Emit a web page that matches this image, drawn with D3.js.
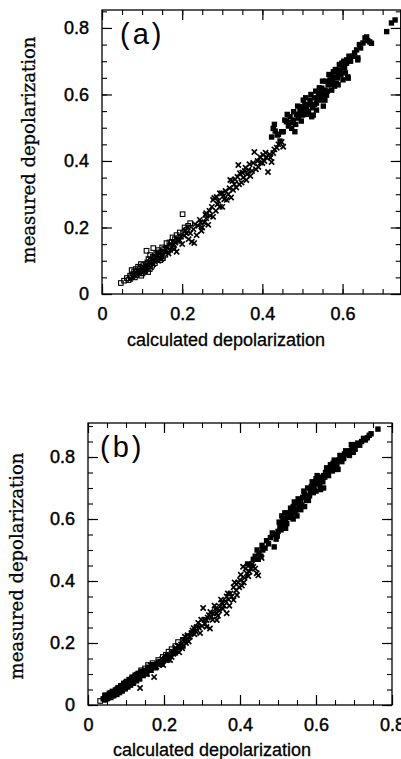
<!DOCTYPE html>
<html>
<head>
<meta charset="utf-8">
<script src="https://cdn.jsdelivr.net/npm/d3@7"></script>
<style>
  html, body { margin: 0; padding: 0; background: #fff; }
  svg { display: block; }
</style>
</head>
<body>
<div id="chart"></div>
<script>
// [calculated, measured] pairs
const aOpen = [[0.047,0.033],[0.055,0.040],[0.062,0.048],[0.066,0.042],[0.070,0.055],[0.072,0.050],[0.074,0.072],[0.078,0.060],[0.080,0.068],[0.082,0.050],[0.084,0.075],[0.086,0.057],[0.088,0.070],[0.090,0.082],[0.092,0.064],[0.094,0.068],[0.095,0.078],[0.097,0.090],[0.098,0.055],[0.100,0.072],[0.101,0.062],[0.103,0.087],[0.105,0.078],[0.106,0.068],[0.108,0.080],[0.110,0.090],[0.111,0.130],[0.113,0.095],[0.115,0.066],[0.116,0.105],[0.118,0.088],[0.119,0.075],[0.120,0.117],[0.122,0.100],[0.124,0.095],[0.125,0.085],[0.127,0.112],[0.128,0.138],[0.130,0.110],[0.132,0.093],[0.133,0.105],[0.135,0.120],[0.138,0.105],[0.140,0.132],[0.142,0.125],[0.143,0.115],[0.145,0.102],[0.148,0.125],[0.150,0.140],[0.152,0.108],[0.155,0.135],[0.158,0.118],[0.161,0.153],[0.162,0.128],[0.165,0.130],[0.168,0.155],[0.170,0.145],[0.174,0.157],[0.176,0.170],[0.178,0.140],[0.182,0.165],[0.186,0.177],[0.188,0.160],[0.190,0.168],[0.194,0.185],[0.201,0.240],[0.202,0.183],[0.206,0.200],[0.211,0.193],[0.215,0.205],[0.220,0.213]];
const aCross = [[0.070,0.045],[0.076,0.052],[0.080,0.058],[0.085,0.062],[0.090,0.070],[0.095,0.062],[0.100,0.070],[0.103,0.081],[0.106,0.075],[0.108,0.070],[0.110,0.083],[0.112,0.078],[0.115,0.085],[0.118,0.095],[0.122,0.080],[0.124,0.102],[0.128,0.090],[0.130,0.100],[0.135,0.110],[0.138,0.118],[0.140,0.100],[0.145,0.123],[0.148,0.105],[0.150,0.112],[0.155,0.128],[0.158,0.135],[0.161,0.141],[0.166,0.122],[0.170,0.132],[0.172,0.150],[0.177,0.147],[0.180,0.135],[0.183,0.155],[0.186,0.127],[0.190,0.160],[0.194,0.162],[0.197,0.172],[0.200,0.150],[0.205,0.175],[0.208,0.190],[0.211,0.183],[0.214,0.200],[0.216,0.165],[0.220,0.183],[0.224,0.157],[0.228,0.195],[0.230,0.153],[0.232,0.210],[0.236,0.177],[0.240,0.205],[0.244,0.223],[0.246,0.215],[0.248,0.190],[0.250,0.200],[0.255,0.215],[0.258,0.238],[0.260,0.228],[0.260,0.243],[0.265,0.208],[0.268,0.250],[0.270,0.235],[0.274,0.262],[0.277,0.232],[0.277,0.283],[0.280,0.289],[0.284,0.250],[0.286,0.292],[0.288,0.270],[0.290,0.280],[0.294,0.262],[0.294,0.303],[0.299,0.303],[0.300,0.262],[0.303,0.295],[0.305,0.285],[0.308,0.310],[0.311,0.283],[0.315,0.300],[0.318,0.318],[0.320,0.343],[0.322,0.290],[0.325,0.340],[0.327,0.313],[0.330,0.330],[0.332,0.345],[0.335,0.320],[0.338,0.352],[0.340,0.388],[0.342,0.330],[0.344,0.363],[0.348,0.335],[0.350,0.365],[0.352,0.350],[0.356,0.370],[0.358,0.380],[0.360,0.343],[0.362,0.360],[0.365,0.373],[0.368,0.390],[0.370,0.355],[0.374,0.370],[0.377,0.394],[0.380,0.427],[0.384,0.375],[0.388,0.400],[0.390,0.382],[0.394,0.412],[0.396,0.395],[0.400,0.394],[0.402,0.418],[0.405,0.400],[0.408,0.425],[0.410,0.412],[0.414,0.367],[0.418,0.420],[0.420,0.410],[0.423,0.397],[0.427,0.424],[0.430,0.435],[0.436,0.440],[0.440,0.450],[0.448,0.457],[0.452,0.443]];
const aFilled = [[0.423,0.472],[0.427,0.498],[0.430,0.510],[0.432,0.490],[0.437,0.478],[0.440,0.480],[0.444,0.460],[0.448,0.488],[0.452,0.488],[0.456,0.523],[0.460,0.518],[0.462,0.540],[0.465,0.505],[0.469,0.533],[0.470,0.515],[0.473,0.498],[0.477,0.523],[0.478,0.548],[0.481,0.488],[0.483,0.510],[0.485,0.540],[0.488,0.565],[0.490,0.529],[0.492,0.540],[0.494,0.563],[0.494,0.553],[0.497,0.520],[0.498,0.545],[0.500,0.538],[0.502,0.583],[0.503,0.555],[0.506,0.570],[0.508,0.590],[0.510,0.553],[0.510,0.563],[0.512,0.540],[0.515,0.548],[0.517,0.570],[0.519,0.583],[0.521,0.600],[0.523,0.533],[0.525,0.560],[0.527,0.538],[0.530,0.590],[0.530,0.570],[0.533,0.610],[0.535,0.574],[0.535,0.553],[0.538,0.585],[0.540,0.600],[0.542,0.620],[0.544,0.604],[0.544,0.583],[0.546,0.595],[0.548,0.619],[0.550,0.640],[0.552,0.565],[0.553,0.600],[0.556,0.583],[0.556,0.613],[0.558,0.640],[0.560,0.598],[0.562,0.610],[0.564,0.629],[0.566,0.660],[0.569,0.644],[0.570,0.630],[0.573,0.613],[0.575,0.640],[0.576,0.653],[0.577,0.668],[0.580,0.625],[0.582,0.675],[0.585,0.634],[0.587,0.650],[0.589,0.629],[0.590,0.660],[0.592,0.690],[0.594,0.674],[0.596,0.660],[0.598,0.694],[0.601,0.644],[0.603,0.700],[0.605,0.680],[0.607,0.665],[0.610,0.704],[0.610,0.694],[0.613,0.653],[0.614,0.649],[0.616,0.715],[0.620,0.700],[0.625,0.715],[0.630,0.725],[0.635,0.734],[0.638,0.710],[0.638,0.704],[0.642,0.750],[0.645,0.740],[0.651,0.755],[0.656,0.770],[0.660,0.773],[0.663,0.762],[0.668,0.758],[0.672,0.754],[0.710,0.789],[0.722,0.815],[0.731,0.824]];

const bOpen = [[0.032,0.013],[0.045,0.030],[0.060,0.038],[0.075,0.050],[0.090,0.062],[0.100,0.072],[0.115,0.085],[0.128,0.098],[0.140,0.112],[0.150,0.118],[0.158,0.129],[0.170,0.135],[0.185,0.145],[0.197,0.155],[0.205,0.162],[0.212,0.172],[0.220,0.180],[0.230,0.190],[0.237,0.203],[0.250,0.210],[0.262,0.222],[0.273,0.232],[0.285,0.248]];
const bCross = [[0.137,0.055],[0.174,0.090],[0.150,0.108],[0.155,0.100],[0.160,0.115],[0.165,0.128],[0.170,0.125],[0.180,0.123],[0.185,0.130],[0.190,0.138],[0.195,0.148],[0.198,0.129],[0.205,0.150],[0.210,0.160],[0.216,0.145],[0.220,0.155],[0.225,0.165],[0.230,0.185],[0.233,0.177],[0.238,0.190],[0.240,0.170],[0.245,0.195],[0.248,0.183],[0.250,0.210],[0.255,0.220],[0.258,0.200],[0.262,0.225],[0.265,0.205],[0.268,0.220],[0.272,0.232],[0.275,0.240],[0.278,0.248],[0.280,0.228],[0.283,0.238],[0.286,0.252],[0.290,0.265],[0.292,0.250],[0.295,0.232],[0.298,0.275],[0.300,0.255],[0.303,0.313],[0.306,0.275],[0.308,0.262],[0.312,0.252],[0.312,0.274],[0.315,0.282],[0.318,0.290],[0.321,0.247],[0.322,0.300],[0.325,0.285],[0.328,0.275],[0.330,0.296],[0.333,0.320],[0.335,0.310],[0.339,0.274],[0.339,0.296],[0.342,0.288],[0.345,0.305],[0.347,0.317],[0.350,0.340],[0.352,0.330],[0.355,0.310],[0.358,0.320],[0.362,0.335],[0.365,0.350],[0.365,0.296],[0.368,0.360],[0.370,0.340],[0.372,0.320],[0.375,0.360],[0.378,0.350],[0.383,0.380],[0.383,0.339],[0.386,0.395],[0.390,0.370],[0.392,0.355],[0.395,0.395],[0.398,0.380],[0.400,0.403],[0.402,0.420],[0.405,0.385],[0.408,0.446],[0.410,0.395],[0.412,0.410],[0.415,0.440],[0.418,0.425],[0.422,0.415],[0.425,0.430],[0.428,0.440],[0.432,0.455],[0.435,0.446],[0.440,0.440],[0.444,0.425],[0.448,0.418],[0.457,0.474]];
const bFilled = [[0.040,0.020],[0.044,0.016],[0.045,0.032],[0.048,0.025],[0.050,0.020],[0.052,0.022],[0.055,0.030],[0.056,0.038],[0.058,0.027],[0.060,0.024],[0.062,0.035],[0.064,0.044],[0.065,0.030],[0.068,0.040],[0.068,0.030],[0.072,0.036],[0.072,0.048],[0.075,0.045],[0.076,0.034],[0.078,0.040],[0.079,0.056],[0.080,0.052],[0.083,0.040],[0.084,0.046],[0.086,0.062],[0.087,0.057],[0.090,0.050],[0.090,0.045],[0.093,0.063],[0.094,0.070],[0.096,0.056],[0.098,0.052],[0.099,0.068],[0.101,0.076],[0.102,0.060],[0.105,0.075],[0.105,0.058],[0.108,0.066],[0.108,0.082],[0.110,0.080],[0.112,0.064],[0.114,0.072],[0.116,0.090],[0.117,0.085],[0.120,0.078],[0.120,0.070],[0.123,0.090],[0.124,0.096],[0.127,0.083],[0.128,0.078],[0.130,0.095],[0.132,0.102],[0.134,0.090],[0.136,0.084],[0.137,0.102],[0.140,0.108],[0.142,0.098],[0.145,0.095],[0.146,0.108],[0.150,0.112],[0.152,0.105],[0.155,0.100],[0.157,0.113],[0.160,0.122],[0.163,0.118],[0.166,0.112],[0.168,0.122],[0.172,0.130],[0.175,0.128],[0.178,0.120],[0.182,0.132],[0.186,0.138],[0.190,0.140],[0.194,0.132],[0.198,0.145],[0.202,0.150],[0.207,0.155],[0.210,0.145],[0.215,0.160],[0.220,0.165],[0.225,0.172],[0.230,0.168],[0.240,0.185],[0.250,0.190],[0.260,0.210],
  [0.420,0.455],[0.430,0.450],[0.435,0.470],[0.440,0.480],[0.445,0.500],[0.448,0.470],[0.450,0.490],[0.455,0.480],[0.458,0.515],[0.460,0.500],[0.466,0.506],[0.470,0.530],[0.475,0.520],[0.480,0.540],[0.485,0.555],[0.490,0.510],[0.490,0.550],[0.495,0.535],[0.498,0.545],[0.500,0.560],[0.503,0.590],[0.505,0.575],[0.508,0.565],[0.510,0.580],[0.510,0.610],[0.513,0.600],[0.515,0.590],[0.518,0.620],[0.520,0.570],[0.520,0.600],[0.523,0.585],[0.525,0.615],[0.528,0.605],[0.530,0.620],[0.533,0.635],[0.535,0.605],[0.538,0.620],[0.540,0.640],[0.540,0.600],[0.543,0.655],[0.545,0.625],[0.548,0.630],[0.550,0.610],[0.550,0.650],[0.553,0.665],[0.555,0.640],[0.558,0.650],[0.560,0.630],[0.560,0.660],[0.563,0.645],[0.565,0.670],[0.568,0.690],[0.570,0.640],[0.570,0.680],[0.573,0.670],[0.575,0.660],[0.578,0.700],[0.580,0.660],[0.583,0.675],[0.585,0.690],[0.588,0.705],[0.590,0.720],[0.593,0.685],[0.595,0.700],[0.598,0.715],[0.600,0.690],[0.600,0.730],[0.603,0.740],[0.605,0.715],[0.608,0.725],[0.610,0.710],[0.612,0.695],[0.615,0.735],[0.618,0.720],[0.620,0.740],[0.620,0.700],[0.623,0.735],[0.625,0.750],[0.628,0.765],[0.630,0.750],[0.633,0.740],[0.635,0.760],[0.638,0.775],[0.640,0.770],[0.643,0.755],[0.645,0.780],[0.648,0.790],[0.650,0.760],[0.653,0.770],[0.655,0.775],[0.658,0.760],[0.660,0.790],[0.663,0.805],[0.665,0.795],[0.668,0.785],[0.670,0.800],[0.673,0.795],[0.675,0.810],[0.678,0.820],[0.680,0.810],[0.685,0.815],[0.688,0.805],[0.690,0.820],[0.693,0.840],[0.695,0.830],[0.698,0.815],[0.700,0.830],[0.703,0.825],[0.705,0.840],[0.710,0.845],[0.715,0.838],[0.720,0.850],[0.725,0.860],[0.730,0.855],[0.735,0.862],[0.740,0.870],[0.745,0.875],[0.763,0.890]];

const xMajorA = [0, 0.2, 0.4, 0.6];
const xMajorB = [0, 0.2, 0.4, 0.6, 0.8];
const yMajor = [0, 0.2, 0.4, 0.6, 0.8];
const xTitle = "calculated depolarization";
const yTitle = "measured depolarization";

const width = 401, height = 759;

const svg = d3.select("#chart").append("svg")
  .attr("width", width)
  .attr("height", height);

const sans = "'Liberation Sans', Arial, Helvetica, sans-serif";

function panel(cfg) {
  const x = d3.scaleLinear().domain(cfg.xDomain).range(cfg.xRange);
  const y = d3.scaleLinear().domain(cfg.yDomain).range(cfg.yRange);
  const g = svg.append("g");
  const [x0, x1] = cfg.xRange, [y0, y1] = cfg.yRange;

  const minorX = d3.range(0, cfg.xDomain[1] + 1e-9, 0.05);
  const minorY = d3.range(0, cfg.yDomain[1] + 1e-9, 0.05);

  function ticks(axis, pos, minor, major, labels) {
    g.append("g").attr("transform", pos)
      .call(axis.tickValues(minor).tickSize(-5).tickFormat(""))
      .call(s => s.select(".domain").remove())
      .selectAll("line").attr("stroke-width", 1.1);
    const m = g.append("g").attr("transform", pos)
      .call(axis.tickValues(major).tickSize(-10).tickPadding(labels ? cfg.pad : 0)
        .tickFormat(labels ? (d => d === 0 ? "0" : d3.format(".1f")(d)) : ""))
      .call(s => s.select(".domain").remove());
    m.selectAll("line").attr("stroke-width", 1.2);
    m.attr("font-family", sans).attr("font-size", 18);
    m.selectAll("text").attr("fill", "#000").attr("stroke", "#000").attr("stroke-width", 0.45);
  }

  ticks(d3.axisBottom(x), `translate(0,${y0})`, minorX, cfg.xMajor, true);
  ticks(d3.axisTop(x), `translate(0,${y1})`, minorX, cfg.xMajor, false);
  ticks(d3.axisLeft(y), `translate(${x0},0)`, minorY, yMajor, true);
  ticks(d3.axisRight(y), `translate(${x1},0)`, minorY, yMajor, false);

  g.append("rect")
    .attr("x", x0).attr("y", y1)
    .attr("width", x1 - x0).attr("height", y0 - y1)
    .attr("fill", "none").attr("stroke", "#000").attr("stroke-width", 1.3);

  const pts = g.append("g");
  pts.selectAll(".filled").data(cfg.filled).join("rect")
    .attr("class", "filled")
    .attr("x", d => x(d[0]) - 2.7).attr("y", d => y(d[1]) - 2.7)
    .attr("width", 5.4).attr("height", 5.4).attr("fill", "#000");
  pts.selectAll(".cross").data(cfg.cross).join("path")
    .attr("class", "cross")
    .attr("transform", d => `translate(${x(d[0])},${y(d[1])})`)
    .attr("d", "M-2.6,-2.6L2.6,2.6M-2.6,2.6L2.6,-2.6")
    .attr("stroke", "#000").attr("stroke-width", 1.7).attr("fill", "none");
  pts.selectAll(".open").data(cfg.open).join("rect")
    .attr("class", "open")
    .attr("x", d => x(d[0]) - 2.3).attr("y", d => y(d[1]) - 2.3)
    .attr("width", 4.6).attr("height", 4.6)
    .attr("fill", "none").attr("stroke", "#000").attr("stroke-width", 1.1);

  g.append("text")
    .attr("x", cfg.xTitle[0]).attr("y", cfg.xTitle[1])
    .attr("text-anchor", "middle")
    .attr("font-family", sans).attr("font-size", 18)
    .attr("stroke", "#000").attr("stroke-width", 0.3)
    .text(xTitle);

  g.append("text")
    .attr("transform", `translate(${cfg.yTitle[0]},${cfg.yTitle[1]}) rotate(-90)`)
    .attr("text-anchor", "middle")
    .attr("font-family", "'DejaVu Serif', serif").attr("font-size", 18)
    .attr("stroke", "#000").attr("stroke-width", 0.3)
    .text(yTitle);

  g.append("text")
    .attr("x", x0 + cfg.tagDx).attr("y", y1 + 34)
    .attr("font-family", sans).attr("font-size", 29)
    .attr("letter-spacing", 3)
    .text(cfg.tag);
}

panel({
  xDomain: [0, 0.745], xRange: [102, 400.7],
  yDomain: [0, 0.854], yRange: [294, 10],
  xMajor: xMajorA, pad: 13,
  open: aOpen, cross: aCross, filled: aFilled,
  xTitle: [226, 346], yTitle: [35, 150],
  tag: "(a)", tagDx: 18
});

panel({
  xDomain: [0, 0.8], xRange: [88, 392],
  yDomain: [0, 0.9097], yRange: [705, 423],
  xMajor: xMajorB, pad: 13,
  open: bOpen, cross: bCross, filled: bFilled,
  xTitle: [212, 756], yTitle: [23, 566],
  tag: "(b)", tagDx: 12
});
</script>
</body>
</html>
